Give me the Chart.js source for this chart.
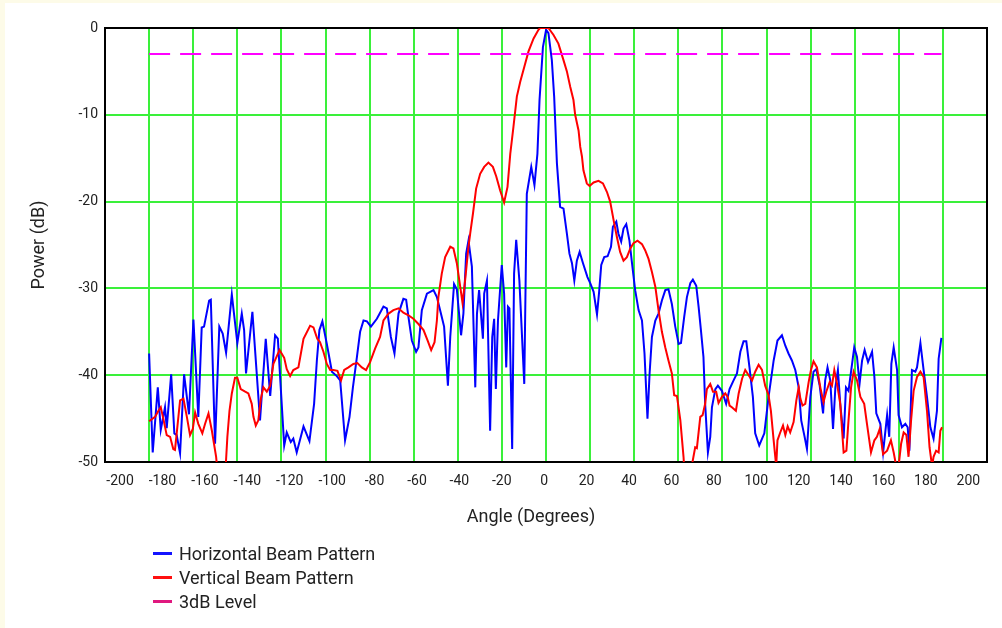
<!DOCTYPE html>
<html>
<head>
<meta charset="utf-8">
<script src="https://cdn.jsdelivr.net/npm/chart.js@4.4.1/dist/chart.umd.min.js"></script>
<style>
  html, body { margin: 0; padding: 0; }
  body { width: 1002px; height: 628px; background: #fdfbe8; position: relative; overflow: hidden; font-family: Roboto, sans-serif; }
  #panel { position: absolute; left: 5px; top: 3px; right: 0; bottom: 0; background: #fff; }
  #wrap { position: absolute; left: 0; top: 0; width: 1002px; height: 628px; }
  #legend { position: absolute; left: 153px; top: 541px; }
  .item { height: 24px; display: flex; align-items: center; font-size: 18px; color: #222; }
  .swatch { width: 19px; height: 3px; margin-right: 7px; }
</style>
</head>
<body>
<div id="panel"></div>
<div id="wrap"><canvas id="chart" width="1002" height="628"></canvas></div>
<div id="legend"></div>
<script>
// angle (deg), power (dB) pairs
const horizontalPattern = [
  [-186.3,-37.5],[-184.6,-48.9],[-182.2,-41.4],[-180.8,-46.3],[-178.8,-43.7],[-178.0,-46.1],[-175.9,-39.9],[-174.4,-46.7],
  [-173.3,-46.9],[-171.7,-49.0],[-169.8,-39.9],[-167.5,-44.5],[-165.4,-33.6],[-163.1,-44.8],[-161.5,-34.5],[-160.4,-34.4],
  [-158.0,-31.4],[-157.2,-31.3],[-155.2,-47.9],[-153.2,-34.4],[-151.6,-35.2],[-150.0,-37.4],[-147.3,-30.7],[-144.7,-36.3],
  [-142.6,-32.9],[-141.5,-34.8],[-140.6,-39.8],[-137.6,-32.7],[-134.0,-45.2],[-131.3,-35.8],[-129.2,-42.4],[-126.9,-35.4],
  [-125.6,-35.8],[-122.6,-48.1],[-121.4,-46.6],[-119.5,-47.7],[-118.3,-47.3],[-116.7,-48.9],[-113.5,-45.9],[-110.7,-47.6],
  [-108.5,-43.3],[-107.2,-38.3],[-106.0,-34.8],[-104.6,-33.8],[-102.5,-36.4],[-100.1,-39.6],[-97.8,-40.1],[-96.2,-40.6],
  [-93.9,-47.5],[-91.8,-44.8],[-90.2,-41.4],[-88.3,-37.9],[-86.8,-35.0],[-85.2,-33.7],[-83.6,-33.8],[-81.7,-34.4],
  [-78.9,-33.5],[-75.8,-32.1],[-74.2,-32.3],[-72.3,-35.6],[-70.6,-37.5],[-68.7,-32.9],[-66.4,-31.2],[-65.1,-31.3],
  [-64.0,-33.3],[-62.4,-36.0],[-60.4,-37.3],[-59.3,-36.8],[-57.7,-32.5],[-55.3,-30.6],[-52.2,-30.2],[-50.6,-31.0],
  [-48.3,-33.3],[-47.2,-34.4],[-45.4,-41.2],[-44.3,-35.6],[-42.5,-29.5],[-41.2,-30.1],[-39.2,-35.4],[-38.1,-32.9],
  [-36.8,-26.0],[-35.7,-24.5],[-34.1,-27.5],[-32.5,-41.4],[-31.7,-32.9],[-30.7,-30.2],[-28.9,-35.8],[-28.3,-30.6],
  [-27.0,-29.1],[-25.5,-46.4],[-24.5,-35.6],[-23.6,-33.5],[-22.8,-41.6],[-21.8,-33.7],[-20.0,-27.3],[-18.9,-30.6],
  [-17.9,-39.1],[-17.1,-32.1],[-16.4,-32.3],[-15.1,-48.5],[-14.2,-28.3],[-13.2,-24.4],[-11.7,-29.1],[-9.4,-41.0],
  [-8.2,-19.1],[-6.1,-16.0],[-4.6,-18.1],[-3.2,-14.5],[-2.2,-8.3],[-0.6,-2.2],[0.9,-0.2],[2.0,-0.6],
  [3.6,-3.7],[4.7,-7.9],[6.0,-15.6],[7.5,-20.6],[9.1,-20.8],[10.7,-23.7],[11.9,-26.0],[13.1,-27.1],
  [14.2,-29.1],[15.4,-26.8],[16.7,-25.8],[18.3,-27.1],[20.4,-28.7],[21.7,-29.4],[23.3,-30.4],[24.9,-33.0],
  [25.9,-30.4],[26.9,-27.3],[28.3,-26.4],[29.9,-26.3],[31.5,-25.2],[32.4,-22.9],[34.0,-22.3],[35.0,-23.7],
  [36.3,-24.6],[37.4,-23.1],[38.7,-22.6],[40.2,-24.5],[41.4,-27.1],[42.9,-30.2],[44.5,-32.5],[46.1,-33.7],
  [47.3,-37.5],[48.7,-45.0],[49.7,-39.8],[50.8,-35.6],[52.4,-33.7],[53.9,-32.9],[55.5,-31.4],[57.1,-30.2],
  [58.6,-30.1],[60.2,-31.8],[61.8,-34.4],[63.4,-36.4],[64.5,-36.3],[66.0,-33.3],[67.3,-31.0],[68.9,-29.4],
  [70.1,-29.0],[71.7,-29.7],[72.8,-32.1],[73.9,-34.8],[75.1,-37.9],[75.9,-43.3],[77.2,-48.9],[78.3,-47.1],
  [79.1,-43.7],[80.7,-41.6],[81.9,-41.2],[83.8,-41.8],[85.8,-43.3],[87.4,-41.6],[89.3,-40.6],[90.9,-39.8],
  [92.5,-37.3],[94.0,-36.1],[95.3,-36.1],[96.8,-39.1],[98.4,-42.5],[99.5,-46.7],[101.4,-48.1],[103.8,-46.7],
  [105.8,-42.5],[108.2,-38.3],[110.0,-36.0],[112.1,-35.4],[113.7,-36.6],[115.2,-37.5],[116.8,-38.3],[118.4,-39.4],
  [120.0,-41.4],[121.2,-45.2],[122.8,-47.1],[123.9,-48.5],[125.5,-42.5],[127.0,-39.6],[128.3,-39.3],[129.9,-41.2],
  [131.5,-44.4],[132.5,-40.6],[133.6,-39.1],[134.9,-40.6],[136.2,-46.2],[137.3,-41.4],[138.5,-39.4],[139.6,-43.3],
  [141.2,-47.3],[142.3,-41.4],[143.5,-41.8],[144.8,-39.4],[146.2,-36.8],[147.5,-37.9],[148.7,-41.0],[149.9,-38.3],
  [151.1,-37.1],[152.7,-38.5],[154.6,-37.3],[155.7,-40.2],[156.6,-44.4],[158.5,-45.6],[159.8,-48.9],[161.7,-44.6],
  [162.7,-47.1],[163.7,-38.7],[164.8,-36.8],[166.4,-39.4],[167.1,-44.6],[168.7,-46.0],[170.3,-45.6],[171.4,-46.0],
  [172.2,-48.7],[173.4,-39.4],[175.0,-39.6],[175.8,-39.1],[177.4,-36.3],[178.9,-39.4],[180.5,-42.5],[182.1,-46.0],
  [183.6,-47.3],[185.2,-44.1],[186.0,-38.1],[187.3,-35.7]
];

const verticalPattern = [
  [-186.3,-45.3],[-183.5,-44.8],[-181.9,-44.1],[-180.8,-43.7],[-179.6,-45.0],[-178.0,-46.9],[-176.4,-47.1],[-174.9,-48.5],
  [-174.1,-48.6],[-173.0,-46.0],[-171.7,-42.9],[-170.1,-42.7],[-168.5,-44.8],[-167.0,-46.9],[-165.7,-46.2],[-164.6,-44.3],
  [-163.1,-45.6],[-161.2,-46.7],[-159.9,-45.6],[-158.3,-44.4],[-156.7,-46.4],[-154.7,-49.4],[-154.1,-51],[-152.4,-56],
  [-150.3,-51],[-149.4,-47.1],[-148.4,-44.1],[-147.3,-42.1],[-145.8,-40.3],[-144.7,-40.3],[-143.1,-41.6],[-141.0,-41.9],
  [-139.5,-42.1],[-137.9,-43.3],[-137.1,-44.8],[-136.0,-45.8],[-134.8,-45.2],[-133.6,-42.7],[-132.4,-41.4],[-130.8,-41.9],
  [-129.2,-41.2],[-127.7,-38.7],[-124.8,-37.1],[-122.6,-38.0],[-121.4,-39.3],[-119.8,-40.1],[-118.3,-39.4],[-115.9,-39.1],
  [-113.5,-35.8],[-110.4,-34.3],[-108.8,-34.5],[-107.0,-35.8],[-105.7,-36.2],[-104.1,-37.3],[-102.5,-38.7],[-100.9,-39.4],
  [-99.4,-39.4],[-97.5,-39.5],[-95.8,-40.6],[-94.3,-39.4],[-92.3,-39.1],[-90.0,-38.7],[-88.1,-38.6],[-86.0,-39.1],
  [-84.0,-39.4],[-82.1,-38.5],[-79.7,-36.9],[-77.4,-35.6],[-75.8,-33.7],[-73.4,-32.9],[-71.1,-32.5],[-68.7,-32.3],
  [-66.4,-32.8],[-64.0,-33.1],[-61.7,-33.5],[-59.3,-34.1],[-56.9,-34.8],[-55.0,-36.0],[-53.3,-37.1],[-51.7,-36.2],
  [-50.6,-33.7],[-49.9,-31.0],[-48.3,-28.3],[-46.7,-26.4],[-44.3,-25.2],[-42.8,-25.4],[-41.2,-27.1],[-39.6,-29.8],
  [-38.5,-31.7],[-37.3,-29.1],[-35.7,-25.2],[-34.9,-23.7],[-33.6,-21.4],[-32.1,-18.5],[-30.2,-16.8],[-28.3,-16.0],
  [-26.3,-15.5],[-24.2,-16.0],[-22.6,-17.1],[-20.8,-18.7],[-18.9,-20.1],[-17.3,-18.3],[-16.0,-14.5],[-14.5,-11.4],
  [-12.9,-7.9],[-11.3,-6.2],[-9.4,-4.5],[-7.4,-2.7],[-5.0,-1.2],[-2.7,-0.2],[-1.9,0],[2.0,0],
  [4.4,-0.8],[6.7,-1.8],[9.1,-3.7],[10.7,-5.0],[12.3,-6.8],[13.8,-8.3],[14.6,-10.0],[16.2,-11.8],
  [17.0,-13.7],[17.8,-14.8],[18.5,-16.4],[20.1,-17.9],[21.4,-18.2],[23.3,-17.8],[25.6,-17.6],[27.7,-17.9],
  [29.6,-18.9],[31.1,-20.0],[32.7,-22.1],[34.3,-24.1],[35.8,-25.8],[37.4,-26.8],[39.0,-26.4],[40.6,-25.4],
  [42.1,-24.8],[44.0,-24.5],[46.1,-24.9],[47.6,-25.6],[49.2,-26.6],[50.8,-28.1],[52.4,-29.8],[53.9,-32.5],
  [55.5,-35.0],[57.1,-36.8],[58.6,-38.3],[60.2,-39.8],[61.3,-42.3],[62.6,-42.4],[64.2,-45.2],[65.7,-49.4],
  [66.8,-54],[68.5,-54],[69.7,-50.3],[71.2,-48.3],[72.0,-48.4],[73.6,-44.8],[74.7,-44.6],[75.9,-43.3],
  [76.7,-41.6],[78.3,-41.0],[79.6,-41.9],[81.1,-41.9],[82.2,-43.2],[83.8,-42.5],[85.4,-42.1],[86.5,-42.5],
  [87.4,-43.5],[88.5,-43.7],[90.4,-44.1],[91.7,-42.1],[93.3,-40.4],[94.8,-39.4],[96.4,-40.0],[98.0,-40.6],
  [99.5,-39.6],[101.1,-38.8],[102.7,-39.4],[104.2,-41.2],[105.8,-42.3],[106.9,-44.1],[108.2,-47.5],[109.4,-50.5],
  [110.0,-47.5],[111.3,-46.6],[112.6,-45.8],[113.7,-46.9],[114.8,-45.9],[116.0,-46.6],[117.6,-45.4],[118.9,-42.9],
  [120.0,-41.4],[120.8,-42.7],[121.8,-43.5],[123.1,-43.3],[124.7,-40.8],[125.8,-39.4],[127.0,-38.4],[128.6,-39.1],
  [130.2,-41.4],[131.7,-43.1],[133.0,-41.9],[134.6,-40.8],[135.7,-41.2],[136.8,-39.4],[138.1,-41.0],[139.6,-43.3],
  [141.2,-48.9],[142.5,-48.7],[143.5,-45.2],[144.7,-41.4],[145.9,-39.6],[147.5,-40.6],[149.1,-42.5],[150.9,-43.3],
  [152.2,-45.6],[154.1,-48.9],[155.7,-47.5],[156.9,-47.1],[158.2,-46.2],[159.8,-49.1],[161.7,-48.7],[163.5,-47.5],
  [164.8,-48.9],[166.0,-50.5],[167.1,-50.5],[168.3,-47.9],[169.5,-46.6],[170.8,-46.9],[171.8,-49.4],[173.0,-45.2],
  [174.2,-41.8],[175.8,-40.2],[177.4,-39.6],[178.9,-40.2],[180.5,-44.1],[181.7,-48.3],[182.9,-50.5],[183.6,-49.4],
  [184.8,-48.7],[186.0,-48.9],[186.8,-46.4],[187.6,-46.0]
];

const levelLine = [[-186.3, -3], [187.3, -3]];

const angleTicks = [-200, -180, -160, -140, -120, -100, -80, -60, -40, -20, 0, 20, 40, 60, 80, 100, 120, 140, 160, 180, 200];
const powerTicks = [0, -10, -20, -30, -40, -50];

const seriesNames = ['Horizontal Beam Pattern', 'Vertical Beam Pattern', '3dB Level'];
const seriesColors = ['#0000ff', '#ff0000', '#ff00ff'];
const legendColors = ['#1414ff', '#ff1010', '#e0187f'];

const GRID_GREEN = '#3af03a';

const toPoints = arr => arr.map(([x, y]) => ({ x, y }));

Chart.defaults.font.family = 'Roboto, sans-serif';
Chart.defaults.color = '#222';

// black frame round the plot area
const framePlugin = {
  id: 'frame',
  beforeDatasetsDraw(chart) {
    const { ctx, chartArea: a } = chart;
    ctx.save();
    ctx.strokeStyle = '#000';
    ctx.lineWidth = 2;
    ctx.strokeRect(a.left, a.top, a.right - a.left, a.bottom - a.top);
    ctx.restore();
  }
};

// x axis title sits a little left of the plot centre in the original
const xTitlePlugin = {
  id: 'xTitle',
  afterDraw(chart) {
    const { ctx, chartArea: a } = chart;
    ctx.save();
    ctx.font = '18px Roboto, sans-serif';
    ctx.fillStyle = '#222';
    ctx.textAlign = 'center';
    ctx.textBaseline = 'middle';
    ctx.fillText('Angle (Degrees)', (a.left + a.right) / 2 - 15, a.bottom + 55);
    ctx.restore();
  }
};

new Chart(document.getElementById('chart'), {
  type: 'line',
  data: {
    datasets: [
      { label: seriesNames[2], data: toPoints(levelLine), borderColor: seriesColors[2], borderWidth: 2, borderDash: [21, 10], pointRadius: 0 },
      { label: seriesNames[1], data: toPoints(verticalPattern), borderColor: seriesColors[1], borderWidth: 2, pointRadius: 0, tension: 0 },
      { label: seriesNames[0], data: toPoints(horizontalPattern), borderColor: seriesColors[0], borderWidth: 2, pointRadius: 0, tension: 0 }
    ]
  },
  options: {
    responsive: false,
    animation: false,
    layout: { padding: { left: 0, right: 15, top: 28, bottom: 126 } },
    plugins: { legend: { display: false }, tooltip: { enabled: false } },
    scales: {
      x: {
        type: 'linear',
        position: 'bottom',
        min: -207.1,
        max: 208.8,
        afterBuildTicks: s => { s.ticks = angleTicks.map(v => ({ value: v })); },
        afterFit: s => { s.height = 40; },
        grid: { display: false, drawTicks: false },
        border: { display: true, color: '#000', width: 2 },
        ticks: { padding: 11, autoSkip: false, maxRotation: 0, font: { size: 14 } }
      },
      xGrid: {
        type: 'linear',
        position: 'top',
        min: 0,
        max: 20,
        ticks: { display: false, stepSize: 1 },
        grid: { color: GRID_GREEN, lineWidth: 2, drawTicks: false },
        border: { display: false }
      },
      y: {
        type: 'linear',
        min: -50,
        max: 0,
        afterBuildTicks: s => { s.ticks = powerTicks.map(v => ({ value: v })); },
        afterFit: s => { s.width = 105; },
        grid: { color: GRID_GREEN, lineWidth: 2, drawTicks: false },
        border: { color: '#000', width: 2 },
        ticks: { padding: 7, font: { size: 14 } },
        title: { display: true, text: 'Power (dB)', font: { size: 18 }, padding: { top: 29, bottom: 0 } }
      }
    }
  },
  plugins: [framePlugin, xTitlePlugin]
});

// legend, one entry per line under the axis title
const legend = document.getElementById('legend');
seriesNames.forEach((name, i) => {
  const item = document.createElement('div');
  item.className = 'item';
  const sw = document.createElement('span');
  sw.className = 'swatch';
  sw.style.background = legendColors[i];
  item.appendChild(sw);
  item.appendChild(document.createTextNode(name));
  legend.appendChild(item);
});
</script>
</body>
</html>
